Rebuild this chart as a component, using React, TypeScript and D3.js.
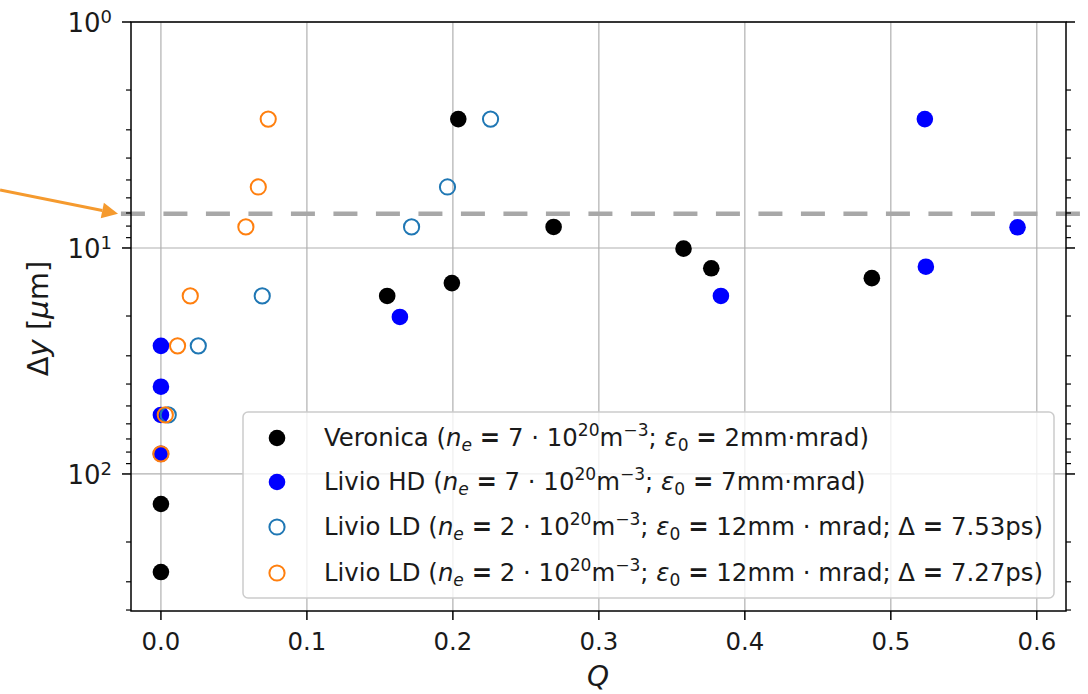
import React from 'react';
import * as d3 from 'd3';

const W = 1088, H = 694;
const FONT = "'DejaVu Sans', sans-serif";
const FS = 24.4;

const xTicks = [0, 0.1, 0.2, 0.3, 0.4, 0.5, 0.6];
const xTickLabels = ['0.0', '0.1', '0.2', '0.3', '0.4', '0.5', '0.6'];
const yMajor = [1, 10, 100];
const yMajorExp = ['0', '1', '2'];

const veronicaQ = [0, 0, 0.155, 0.1993, 0.2037, 0.269, 0.358, 0.377, 0.487];
const veronicaDy = [271.6, 135.8, 16.3, 14.3, 2.69, 8.07, 10.07, 12.3, 13.6];
const hdQ = [0, 0, 0, 0, 0.1637, 0.3836, 0.5233, 0.524, 0.5868];
const hdDy = [27.1, 41.1, 54.8, 81.5, 20.2, 16.3, 2.69, 12.1, 8.1];
const ld1Q = [0.005, 0.0256, 0.0694, 0.1717, 0.1963, 0.2258];
const ld1Dy = [54.8, 27.1, 16.3, 8.07, 5.37, 2.69];
const ld2Q = [0, 0.003, 0.0114, 0.0201, 0.0582, 0.0667, 0.0735];
const ld2Dy = [81.5, 54.8, 27.1, 16.3, 8.07, 5.37, 2.69];

const THRESHOLD = 7.05;
const thresholdQ = [-0.0274, 0.6316];
const arrowFrom = { q: -0.1102, dy: 5.54 };
const arrowTo = { q: -0.0294, dy: THRESHOLD };

type Seg = { t: string; it?: boolean; sub?: boolean; sup?: boolean; b?: boolean };
const ne = (v: string): Seg[] => [
  { t: 'n', it: true }, { t: 'e', it: true, sub: true }, { t: ' ' }, { t: '=', b: true },
  { t: ' ' + v + ' · 10' }, { t: '20', sup: true }, { t: 'm' }, { t: '−3', sup: true }, { t: '; ' },
  { t: 'ε', it: true }, { t: '0', sub: true }, { t: ' ' }, { t: '=', b: true },
];
const legendRows: { label: Seg[]; color: string; filled: boolean }[] = [
  { label: [{ t: 'Veronica (' }, ...ne('7'), { t: ' 2mm·mrad)' }], color: '#000000', filled: true },
  { label: [{ t: 'Livio HD (' }, ...ne('7'), { t: ' 7mm·mrad)' }], color: '#0000ff', filled: true },
  { label: [{ t: 'Livio LD (' }, ...ne('2'), { t: ' 12mm · mrad; Δ ' }, { t: '=', b: true }, { t: ' 7.53ps)' }], color: '#1f77b4', filled: false },
  { label: [{ t: 'Livio LD (' }, ...ne('2'), { t: ' 12mm · mrad; Δ ' }, { t: '=', b: true }, { t: ' 7.27ps)' }], color: '#ff7f0e', filled: false },
];

function renderSegs(segs: Seg[], fs: number) {
  const out: any[] = [];
  let shift = 0;
  segs.forEach((s, i) => {
    let target = 0;
    if (s.sup) target = -0.42 * fs;
    if (s.sub) target = 0.22 * fs;
    const dy = target - shift;
    shift = target;
    out.push(
      <tspan key={i} dy={dy} fontStyle={s.it ? 'italic' : 'normal'} fontWeight={s.b ? 'bold' : 'normal'}
        fontSize={s.sup || s.sub ? fs * 0.7 : fs}>{s.t}</tspan>
    );
  });
  return out;
}

export default function App() {
  const L = 131, R = 1066, T = 22, B = 611;
  const x = d3.scaleLinear().domain([-0.0205, 0.62]).range([L, R]);
  const y = d3.scaleLog().domain([1, 404]).range([T, B]);
  const minor: number[] = [];
  [1, 10, 100].forEach(dec => { for (let k = 2; k <= 9; k++) { const v = dec * k; if (v <= 404) minor.push(v); } });

  const series = [
    { q: veronicaQ, v: veronicaDy, color: '#000000', filled: true },
    { q: hdQ, v: hdDy, color: '#0000ff', filled: true },
    { q: ld1Q, v: ld1Dy, color: '#1f77b4', filled: false },
    { q: ld2Q, v: ld2Dy, color: '#ff7f0e', filled: false },
  ];

  const ax0 = x(arrowFrom.q), ay0 = y(arrowFrom.dy), ax1 = x(arrowTo.q), ay1 = y(arrowTo.dy);
  const ang = Math.atan2(ay1 - ay0, ax1 - ax0);
  const hl = 16, hw = 8;
  const bx = ax1 - hl * Math.cos(ang), by = ay1 - hl * Math.sin(ang);
  const head = `M${ax1},${ay1} L${bx + hw * Math.sin(ang)},${by - hw * Math.cos(ang)} L${bx - hw * Math.sin(ang)},${by + hw * Math.cos(ang)} Z`;

  const legRowY = [438, 482, 527, 573];

  return (
    <svg width={W} height={H} style={{ position: 'absolute', left: 0, top: 0, fontFamily: FONT }}>
      <rect width={W} height={H} fill="#fff" />
      {xTicks.map(t => <line key={'gx' + t} x1={x(t)} x2={x(t)} y1={T} y2={B} stroke="#b0b0b0" strokeWidth={1.2} />)}
      {yMajor.map(t => <line key={'gy' + t} x1={L} x2={R} y1={y(t)} y2={y(t)} stroke="#b0b0b0" strokeWidth={1.2} />)}
      <line x1={x(thresholdQ[0])} x2={x(thresholdQ[1])} y1={y(THRESHOLD)} y2={y(THRESHOLD)} stroke="#a8a8a8" strokeWidth={4.5} strokeDasharray="24 18.5" />
      {series.map((s, si) => s.q.map((q, i) => (
        <circle key={si + '-' + i} cx={x(q)} cy={y(s.v[i])} r={s.filled ? 8.3 : 7.6}
          fill={s.filled ? s.color : 'none'} stroke={s.filled ? 'none' : s.color} strokeWidth={2} />
      )))}
      <rect x={L} y={T} width={R - L} height={B - T} fill="none" stroke="#000" strokeWidth={1.5} />
      {xTicks.map((t, i) => (
        <g key={'xt' + t}>
          <line x1={x(t)} x2={x(t)} y1={B} y2={B + 9} stroke="#000" strokeWidth={1.5} />
          <text x={x(t)} y={B + 39} textAnchor="middle" fontSize={FS} fill="#1a1a1a">{xTickLabels[i]}</text>
        </g>
      ))}
      {yMajor.map((t, i) => (
        <g key={'yt' + t}>
          <line x1={L - 9} x2={L} y1={y(t)} y2={y(t)} stroke="#000" strokeWidth={1.5} />
          <line x1={R} x2={R + 9} y1={y(t)} y2={y(t)} stroke="#000" strokeWidth={1.5} />
          <text x={112} y={y(t) + 10} textAnchor="end" fontSize={26} fill="#1a1a1a">
            10<tspan dy={-9} fontSize={18}>{yMajorExp[i]}</tspan>
          </text>
        </g>
      ))}
      {minor.map(t => (
        <g key={'ym' + t}>
          <line x1={L - 5} x2={L} y1={y(t)} y2={y(t)} stroke="#000" strokeWidth={1.2} />
          <line x1={R} x2={R + 5} y1={y(t)} y2={y(t)} stroke="#000" strokeWidth={1.2} />
        </g>
      ))}
      <text x={598} y={686} textAnchor="middle" fontSize={28} fontStyle="italic" fill="#1a1a1a">Q</text>
      <text transform={`translate(48,${(T + B) / 2 + 2}) rotate(-90)`} textAnchor="middle" fontSize={29} fill="#1a1a1a">
        Δ<tspan fontStyle="italic">y</tspan> [<tspan fontStyle="italic">μ</tspan>m]
      </text>
      <rect x={243} y={412} width={811} height={186} rx={5} fill="#fff" fillOpacity={0.8} stroke="#cccccc" strokeWidth={1.5} />
      {legendRows.map((r, i) => (
        <g key={'lg' + i}>
          <circle cx={277} cy={legRowY[i]} r={r.filled ? 8.3 : 7.6} fill={r.filled ? r.color : 'none'} stroke={r.filled ? 'none' : r.color} strokeWidth={2} />
          <text x={324} y={legRowY[i] + 8} fontSize={FS} fill="#1a1a1a">{renderSegs(r.label, FS)}</text>
        </g>
      ))}
      <line x1={ax0} y1={ay0} x2={bx} y2={by} stroke="#f59a2e" strokeWidth={3} />
      <path d={head} fill="#f59a2e" />
    </svg>
  );
}
